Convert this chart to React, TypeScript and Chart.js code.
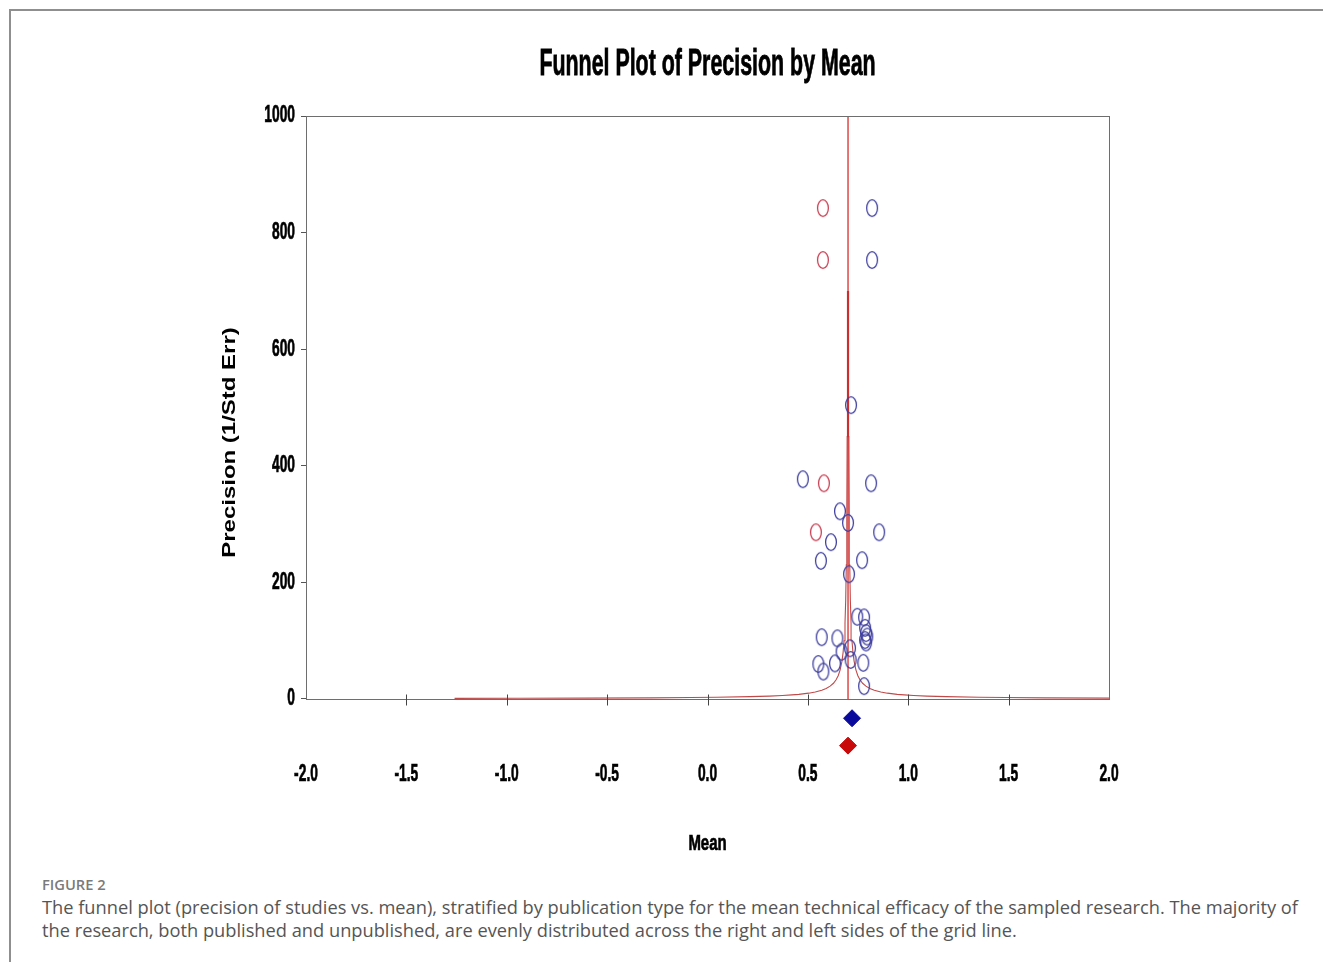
import React, { useEffect, useRef } from 'react';
import { Chart, LinearScale, registerables } from 'chart.js';

// ---- Text ----
const TITLE = 'Funnel Plot of Precision by Mean';
const X_TITLE = 'Mean';
const Y_TITLE = 'Precision (1/Std Err)';
const CAPTION_LABEL = 'FIGURE 2';
const CAPTION_LINE_1 =
  'The funnel plot (precision of studies vs. mean), stratified by publication type for the mean technical efficacy of the sampled research. The majority of';
const CAPTION_LINE_2 =
  'the research, both published and unpublished, are evenly distributed across the right and left sides of the grid line.';

// ---- Axes ----
const X_TICKS = [-2, -1.5, -1, -0.5, 0, 0.5, 1, 1.5, 2];
const X_TICK_LABELS = ['-2.0', '-1.5', '-1.0', '-0.5', '0.0', '0.5', '1.0', '1.5', '2.0'];
const Y_TICKS = [0, 200, 400, 600, 800, 1000];
const Y_TICK_LABELS = ['0', '200', '400', '600', '800', '1000'];

// ---- Observed studies (blue) ----
const observedMean = [
  0.82, 0.82, 0.715, 0.475, 0.815, 0.66, 0.7, 0.855, 0.615, 0.565, 0.77, 0.705,
  0.746, 0.78, 0.785, 0.79, 0.796, 0.785, 0.79, 0.569, 0.647, 0.668, 0.71, 0.713,
  0.635, 0.552, 0.577, 0.776, 0.78,
];
const observedPrecision = [
  842, 753, 504, 377, 370, 322, 302, 286, 269, 237, 238, 214,
  141, 140, 122, 113, 107, 101, 97, 106, 104, 81, 87, 67,
  61, 60, 47, 62, 22,
];

// ---- Imputed studies (red) ----
const imputedMean = [0.575, 0.575, 0.58, 0.54];
const imputedPrecision = [842, 753, 370, 286];

// ---- Summary diamonds (observed, adjusted), drawn below the axis ----
const summaryMean = [0.72, 0.7];
const summaryRow = [-33, -80];

// ---- Funnel (95% limits around adjusted mean) ----
const adjustedMean = 0.7;
const Z = 1.96;
const funnelPrecision = [
  1, 1.2, 1.5, 2, 2.5, 3, 4, 5, 6, 7, 8, 10, 12, 15, 18, 22, 27, 33, 40, 50, 65,
  80, 100, 130, 170, 230, 320, 450, 700,
];

const SANS = "'Liberation Sans', Arial, sans-serif";

// horizontal compression / stretch of the text, per scale
const TEXT_STRETCH: Record<string, { ticks: number; title: number; stroke: number }> = {
  x: { ticks: 0.6, title: 0.68, stroke: 0.7 },
  y: { ticks: 0.6, title: 1.37, stroke: 0 },
};

class StretchLinearScale extends (LinearScale as any) {
  static id = 'stretchLinear';

  drawLabels(chartArea: any) {
    const self: any = this;
    if (!self.options.ticks.display) return;
    const ctx = self.ctx;
    const s = (TEXT_STRETCH[self.id] || { ticks: 1 }).ticks;
    const items = self.getLabelItems(chartArea);
    for (const item of items) {
      const o = item.options;
      ctx.save();
      ctx.translate(o.translation[0], o.translation[1]);
      if (o.rotation) ctx.rotate(o.rotation);
      ctx.scale(s, 1);
      ctx.font = item.font.string;
      ctx.fillStyle = o.color;
      ctx.strokeStyle = o.color;
      ctx.lineWidth = 0.7;
      ctx.textAlign = o.textAlign;
      ctx.textBaseline = o.textBaseline;
      ctx.fillText(String(item.label), 0, item.textOffset);
      ctx.strokeText(String(item.label), 0, item.textOffset);
      ctx.restore();
    }
  }

  drawTitle() {
    const self: any = this;
    const title = self.options.title;
    if (!title.display) return;
    const ctx = self.ctx;
    const st = TEXT_STRETCH[self.id] || { title: 1, stroke: 0 };
    const f = title.font;
    const pad = title.padding;
    ctx.save();
    if (self.isHorizontal()) {
      ctx.translate((self.left + self.right) / 2, self.bottom - pad.bottom);
      ctx.textBaseline = 'alphabetic';
    } else {
      const top = self.getPixelForValue(Y_TICKS[Y_TICKS.length - 1]);
      const bottom = self.getPixelForValue(Y_TICKS[0]);
      ctx.translate(self.left + pad.top, (top + bottom) / 2 + pad.bottom);
      ctx.rotate(-Math.PI / 2);
      ctx.textBaseline = 'middle';
    }
    ctx.scale(st.title, 1);
    ctx.font = `${f.weight} ${f.size}px ${f.family}`;
    ctx.fillStyle = title.color;
    ctx.textAlign = 'center';
    ctx.fillText(title.text, 0, 0);
    if (st.stroke) {
      ctx.strokeStyle = title.color;
      ctx.lineWidth = st.stroke;
      ctx.strokeText(title.text, 0, 0);
    }
    ctx.restore();
  }
}

Chart.register(...registerables, StretchLinearScale as any);

function makeRing(color: string): HTMLCanvasElement {
  const c = document.createElement('canvas');
  c.width = 14;
  c.height = 20;
  const ctx = c.getContext('2d')!;
  ctx.strokeStyle = color;
  ctx.lineWidth = 1.25;
  ctx.beginPath();
  ctx.ellipse(7, 10, 5.4, 8.3, 0, 0, Math.PI * 2);
  ctx.stroke();
  return c;
}

// frame of the plot box (0..1000), x tick marks crossing the axis, and chart title
const framePlugin = {
  id: 'frame',
  afterDraw(chart: any) {
    const { ctx, chartArea, scales } = chart;
    const ys = scales.y;
    const xs = scales.x;
    const top = Math.round(ys.getPixelForValue(Y_TICKS[Y_TICKS.length - 1])) + 0.5;
    const bottom = Math.round(ys.getPixelForValue(Y_TICKS[0])) + 0.5;
    const left = Math.round(chartArea.left) + 0.5;
    const right = Math.round(chartArea.right) + 0.5;
    ctx.save();
    ctx.strokeStyle = '#6e6e6e';
    ctx.lineWidth = 1;
    ctx.strokeRect(left, top, right - left, bottom - top);
    ctx.strokeStyle = '#444';
    X_TICKS.forEach((v) => {
      if (v === X_TICKS[0] || v === X_TICKS[X_TICKS.length - 1]) return;
      const px = Math.round(xs.getPixelForValue(v)) + 0.5;
      ctx.beginPath();
      ctx.moveTo(px, bottom - 5);
      ctx.lineTo(px, bottom + 6);
      ctx.stroke();
    });
    // chart title
    ctx.translate((chartArea.left + chartArea.right) / 2, 75);
    ctx.scale(0.594, 1);
    ctx.font = `bold 36px ${SANS}`;
    ctx.fillStyle = '#000';
    ctx.strokeStyle = '#000';
    ctx.lineWidth = 0.8;
    ctx.textAlign = 'center';
    ctx.textBaseline = 'alphabetic';
    ctx.fillText(TITLE, 0, 0);
    ctx.strokeText(TITLE, 0, 0);
    ctx.restore();
  },
};

function FunnelChart() {
  const ref = useRef<HTMLCanvasElement | null>(null);
  useEffect(() => {
    if (!ref.current) return;
    const blueRing = makeRing('#3d3d9e');
    const redRing = makeRing('#c83c50');

    const leftFunnel = funnelPrecision.map((p) => ({ x: adjustedMean - Z / p, y: p }));
    const rightFunnel = funnelPrecision.map((p) => ({ x: adjustedMean + Z / p, y: p }));

    const chart = new Chart(ref.current, {
      type: 'scatter',
      data: {
        datasets: [
          {
            label: 'Observed pooled',
            data: [{ x: summaryMean[0], y: summaryRow[0] }],
            pointStyle: 'rectRot',
            pointRadius: 8.5,
            backgroundColor: '#0a0a9c',
            borderColor: '#0a0a9c',
            borderWidth: 1,
          },
          {
            label: 'Adjusted pooled',
            data: [{ x: summaryMean[1], y: summaryRow[1] }],
            pointStyle: 'rectRot',
            pointRadius: 8.5,
            backgroundColor: '#c80a0a',
            borderColor: '#c80a0a',
            borderWidth: 1,
          },
          {
            label: 'Observed studies',
            data: observedMean.map((m, i) => ({ x: m, y: observedPrecision[i] })),
            pointStyle: blueRing,
          },
          {
            label: 'Imputed studies',
            data: imputedMean.map((m, i) => ({ x: m, y: imputedPrecision[i] })),
            pointStyle: redRing,
          },
          {
            label: 'Adjusted mean',
            data: [
              { x: adjustedMean, y: 0 },
              { x: adjustedMean, y: 1000 },
            ],
            showLine: true,
            pointRadius: 0,
            borderColor: '#d41a1a',
            borderWidth: 1.2,
          },
          {
            label: 'Funnel left',
            data: leftFunnel,
            showLine: true,
            pointRadius: 0,
            borderColor: '#c04a4a',
            borderWidth: 1.1,
          },
          {
            label: 'Funnel right',
            data: rightFunnel,
            showLine: true,
            pointRadius: 0,
            borderColor: '#c04a4a',
            borderWidth: 1.1,
          },
        ],
      },
      options: {
        animation: false,
        responsive: false,
        maintainAspectRatio: false,
        layout: { padding: { left: 0, right: 214, top: 116, bottom: 0 } },
        plugins: {
          legend: { display: false },
          tooltip: { enabled: false },
          title: { display: false },
        },
        scales: {
          x: {
            type: 'stretchLinear',
            position: 'bottom',
            min: -2,
            max: 2,
            afterBuildTicks: (s: any) => {
              s.ticks = X_TICKS.map((v) => ({ value: v }));
            },
            afterFit: (s: any) => {
              s.height = 112.7;
            },
            ticks: {
              callback: (_v: any, i: number) => X_TICK_LABELS[i],
              color: '#000',
              font: { family: SANS, size: 23, weight: 'bold', lineHeight: 1.2 },
              padding: 4,
              maxRotation: 0,
              autoSkip: false,
            },
            grid: { display: false, drawTicks: false },
            border: { display: false },
            title: {
              display: true,
              text: X_TITLE,
              color: '#000',
              font: { family: SANS, size: 22, weight: 'bold' },
              padding: { top: 0, bottom: 20 },
            },
          },
          y: {
            type: 'stretchLinear',
            position: 'left',
            min: -100,
            max: 1000,
            afterBuildTicks: (s: any) => {
              s.ticks = Y_TICKS.map((v) => ({ value: v }));
            },
            afterFit: (s: any) => {
              s.width = 306;
            },
            ticks: {
              callback: (_v: any, i: number) => Y_TICK_LABELS[i],
              color: '#000',
              font: { family: SANS, size: 23, weight: 'bold', lineHeight: 1.2 },
              padding: 6,
              autoSkip: false,
            },
            grid: { drawOnChartArea: false, drawTicks: true, tickLength: 5, color: '#555' },
            border: { display: false },
            title: {
              display: true,
              text: Y_TITLE,
              color: '#000',
              font: { family: SANS, size: 17.5, weight: 'bold' },
              padding: { top: 230, bottom: 35 },
            },
          },
        },
      },
      plugins: [framePlugin],
    } as any);
    return () => chart.destroy();
  }, []);

  return (
    <canvas
      ref={ref}
      width={1323}
      height={870}
      style={{ position: 'absolute', left: 0, top: 0, width: 1323, height: 870, display: 'block' }}
    />
  );
}

export default function App() {
  useEffect(() => {
    document.body.style.overflow = 'hidden';
  }, []);
  return (
    <div>
      <div
        style={{
          position: 'absolute',
          left: 9,
          top: 9,
          width: 1314,
          height: 953,
          boxSizing: 'border-box',
          borderLeft: '2px solid #8f8f8f',
          borderTop: '2px solid #8f8f8f',
        }}
      />
      <FunnelChart />
      <div
        style={{
          position: 'absolute',
          left: 42,
          top: 874,
          fontFamily: "'Open Sans', sans-serif",
          fontSize: 14.7,
          fontWeight: 600,
          color: '#7a7a7a',
          whiteSpace: 'nowrap',
        }}
      >
        {CAPTION_LABEL}
      </div>
      <div
        style={{
          position: 'absolute',
          left: 42,
          top: 895,
          fontFamily: "'Open Sans', sans-serif",
          fontSize: 18.25,
          lineHeight: '23px',
          color: '#555',
          whiteSpace: 'nowrap',
        }}
      >
        {CAPTION_LINE_1}
        <br />
        {CAPTION_LINE_2}
      </div>
    </div>
  );
}
